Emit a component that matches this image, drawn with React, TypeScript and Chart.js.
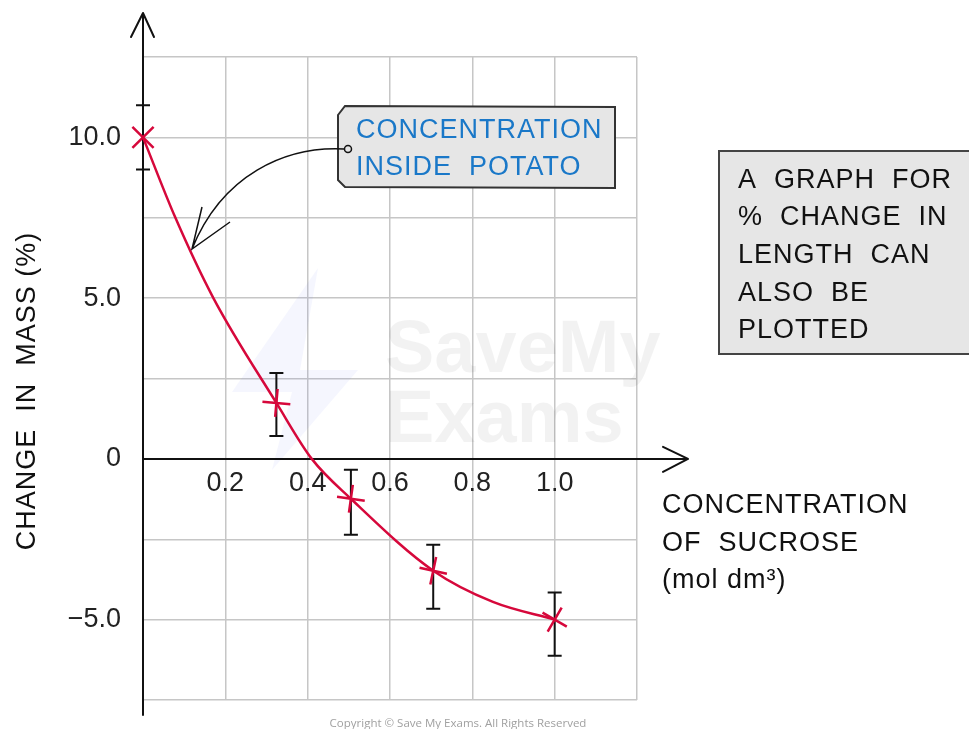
import React, { useEffect, useRef } from "react";
import { Chart, registerables } from "chart.js";

Chart.register(...registerables);

// ---------------- data ----------------
const sucroseConc = [0, 0.324, 0.505, 0.705, 1.0];
const massChange = [10.0, 1.74, -1.24, -3.48, -5.0];
const errorUpper = [11.0, 2.67, -0.34, -2.67, -4.16];
const errorLower = [9.0, 0.71, -2.36, -4.66, -6.12];

const curveConc = [0, 0.078, 0.171, 0.324, 0.41, 0.505, 0.705, 0.85, 1.0];
const curveMass = [10.0, 7.52, 5.0, 1.74, 0.0, -1.24, -3.48, -4.45, -5.0];

const xTickValues = [0.2, 0.4, 0.6, 0.8, 1.0];
const xTickTexts = ["0.2", "0.4", "0.6", "0.8", "1.0"];
const yTickValues = [10, 5, 0, -5];
const yTickTexts = ["10.0", "5.0", "0", "\u22125.0"];

const yTitle = "CHANGE  IN  MASS (%)";
const xTitleLines = ["CONCENTRATION", "OF  SUCROSE", "(mol dm\u00B3)"];
const calloutLines = ["CONCENTRATION", "INSIDE  POTATO"];
const noteLines = ["A  GRAPH  FOR", "%  CHANGE  IN", "LENGTH  CAN", "ALSO  BE", "PLOTTED"];
const watermarkLines = ["SaveMy", "Exams"];
const copyrightText = "Copyright \u00A9 Save My Exams. All Rights Reserved";

const FONT = "'Liberation Sans', Arial, sans-serif";
const RED = "#d6083b";

const overlayPlugin = {
  id: "overlay",
  beforeDatasetsDraw(chart: any) {
    const { ctx, chartArea } = chart;
    const xs = chart.scales.x;
    const ys = chart.scales.y;
    ctx.save();

    // faint watermark
    ctx.fillStyle = "rgba(80,110,230,0.06)";
    ctx.beginPath();
    ctx.moveTo(318, 268);
    ctx.lineTo(232, 392);
    ctx.lineTo(292, 392);
    ctx.lineTo(272, 470);
    ctx.lineTo(358, 370);
    ctx.lineTo(300, 370);
    ctx.closePath();
    ctx.fill();
    ctx.fillStyle = "rgba(0,0,0,0.05)";
    ctx.font = `bold 74px ${FONT}`;
    ctx.textAlign = "left";
    ctx.textBaseline = "alphabetic";
    ctx.fillText(watermarkLines[0], 385, 372);
    ctx.fillText(watermarkLines[1], 385, 442);

    // axes with arrows
    const x0 = xs.getPixelForValue(0);
    const y0 = ys.getPixelForValue(0);
    ctx.strokeStyle = "#111";
    ctx.lineWidth = 2;
    ctx.lineCap = "round";
    ctx.lineJoin = "round";
    ctx.beginPath();
    ctx.moveTo(x0, chartArea.bottom + 15);
    ctx.lineTo(x0, 13);
    ctx.moveTo(x0 - 12, 37);
    ctx.lineTo(x0, 13);
    ctx.lineTo(x0 + 11, 37);
    ctx.moveTo(x0, y0);
    ctx.lineTo(chartArea.right + 51, y0);
    ctx.moveTo(chartArea.right + 26, y0 - 12);
    ctx.lineTo(chartArea.right + 51, y0);
    ctx.lineTo(chartArea.right + 26, y0 + 13);
    ctx.stroke();

    // error bars
    ctx.lineWidth = 2;
    ctx.lineCap = "butt";
    ctx.beginPath();
    for (let i = 0; i < sucroseConc.length; i++) {
      const px = xs.getPixelForValue(sucroseConc[i]);
      const top = ys.getPixelForValue(errorUpper[i]);
      const bot = ys.getPixelForValue(errorLower[i]);
      ctx.moveTo(px, top);
      ctx.lineTo(px, bot);
      ctx.moveTo(px - 7, top);
      ctx.lineTo(px + 7, top);
      ctx.moveTo(px - 7, bot);
      ctx.lineTo(px + 7, bot);
    }
    ctx.stroke();
    ctx.restore();
  },
  afterDraw(chart: any) {
    const { ctx } = chart;
    ctx.save();
    ctx.textAlign = "left";
    ctx.textBaseline = "alphabetic";
    (ctx as any).letterSpacing = "1px";

    // callout box
    ctx.fillStyle = "#e6e6e6";
    ctx.strokeStyle = "#333";
    ctx.lineWidth = 2;
    ctx.beginPath();
    ctx.moveTo(345, 106);
    ctx.lineTo(615, 107);
    ctx.lineTo(615, 188);
    ctx.lineTo(345, 187);
    ctx.lineTo(338, 180);
    ctx.lineTo(338, 115);
    ctx.closePath();
    ctx.fill();
    ctx.stroke();
    ctx.fillStyle = "#1a78c8";
    ctx.font = `27px ${FONT}`;
    ctx.fillText(calloutLines[0], 356, 138);
    ctx.fillText(calloutLines[1], 356, 175);

    // connector arrow
    ctx.strokeStyle = "#111";
    ctx.lineWidth = 1.5;
    ctx.beginPath();
    ctx.moveTo(344, 149);
    ctx.bezierCurveTo(285, 146, 222, 175, 192, 249);
    ctx.moveTo(202, 207);
    ctx.lineTo(192, 249);
    ctx.lineTo(230, 222);
    ctx.stroke();
    ctx.fillStyle = "#e6e6e6";
    ctx.beginPath();
    ctx.arc(348, 149, 3.5, 0, Math.PI * 2);
    ctx.fill();
    ctx.stroke();

    // note box
    ctx.fillStyle = "#e6e6e6";
    ctx.strokeStyle = "#444";
    ctx.lineWidth = 2;
    ctx.fillRect(719, 151, 260, 203);
    ctx.strokeRect(719, 151, 260, 203);
    ctx.fillStyle = "#111";
    ctx.font = `27px ${FONT}`;
    const noteBase = [188, 225, 263, 301, 338];
    noteLines.forEach((t, i) => ctx.fillText(t, 738, noteBase[i]));

    // x-axis title
    const xBase = [513, 551, 588];
    xTitleLines.forEach((t, i) => ctx.fillText(t, 662, xBase[i]));

    // y-axis title
    ctx.save();
    ctx.translate(35, 391);
    ctx.rotate(-Math.PI / 2);
    ctx.textAlign = "center";
    ctx.fillText(yTitle, 0, 0);
    ctx.restore();

    // copyright
    (ctx as any).letterSpacing = "0px";
    ctx.fillStyle = "#a0a0a0";
    ctx.font = `11.5px 'Open Sans', ${FONT}`;
    ctx.textAlign = "center";
    ctx.fillText(copyrightText, 458, 727);
    ctx.restore();
  },
};

export default function App() {
  const ref = useRef<HTMLCanvasElement | null>(null);

  useEffect(() => {
    if (!ref.current) return;
    const chart = new Chart(ref.current, {
      type: "line",
      data: {
        datasets: [
          {
            label: "measured",
            data: sucroseConc.map((c, i) => ({ x: c, y: massChange[i] })),
            showLine: false,
            clip: false,
            pointStyle: "cross",
            pointRotation: [45, 5, 8, 12, 30],
            pointRadius: [15, 14, 14, 14, 14],
            pointBorderWidth: 2.5,
            borderColor: RED,
            backgroundColor: RED,
            pointBorderColor: RED,
          },
          {
            label: "curve",
            data: curveConc.map((c, i) => ({ x: c, y: curveMass[i] })),
            borderColor: RED,
            borderWidth: 2.5,
            pointRadius: 0,
            clip: false,
            cubicInterpolationMode: "monotone",
            fill: false,
          },
        ],
      },
      options: {
        responsive: false,
        animation: false,
        devicePixelRatio: 1,
        layout: { padding: { left: 0, right: 332, top: 57, bottom: 29 } },
        plugins: {
          legend: { display: false },
          tooltip: { enabled: false },
        },
        events: [],
        scales: {
          x: {
            type: "linear",
            position: { y: 0 },
            min: 0,
            max: 1.2,
            border: { display: false },
            grid: { color: "#c6c6c6", lineWidth: 1.5, drawTicks: false },
            ticks: {
              stepSize: 0.2,
              autoSkip: false,
              maxRotation: 0,
              padding: 8,
              color: "#222",
              font: { family: FONT, size: 27 },
              callback: (v: any) => {
                const r = Math.round(Number(v) * 10) / 10;
                const k = xTickValues.indexOf(r);
                return k >= 0 ? xTickTexts[k] : "";
              },
            },
            afterFit: (s: any) => {
              s.height = 0;
              s.paddingLeft = 0;
              s.paddingRight = 0;
              s.paddingTop = 0;
              s.paddingBottom = 0;
            },
          },
          y: {
            type: "linear",
            position: "left",
            min: -7.5,
            max: 12.5,
            border: { display: false },
            grid: { color: "#c6c6c6", lineWidth: 1.5, drawTicks: false },
            ticks: {
              stepSize: 2.5,
              autoSkip: false,
              padding: 22,
              color: "#222",
              font: { family: FONT, size: 27 },
              callback: (v: any) => {
                const k = yTickValues.indexOf(Number(v));
                return k >= 0 ? yTickTexts[k] : "";
              },
            },
            afterFit: (s: any) => {
              s.width = 143;
              s.paddingTop = 0;
              s.paddingBottom = 0;
              s.paddingLeft = 0;
              s.paddingRight = 0;
            },
          },
        },
      },
      plugins: [overlayPlugin],
    } as any);
    return () => chart.destroy();
  }, []);

  return (
    <div style={{ position: "absolute", left: 0, top: 0, width: 969, height: 729, background: "#fff" }}>
      <canvas ref={ref} width={969} height={729} style={{ display: "block", width: 969, height: 729 }} />
    </div>
  );
}
